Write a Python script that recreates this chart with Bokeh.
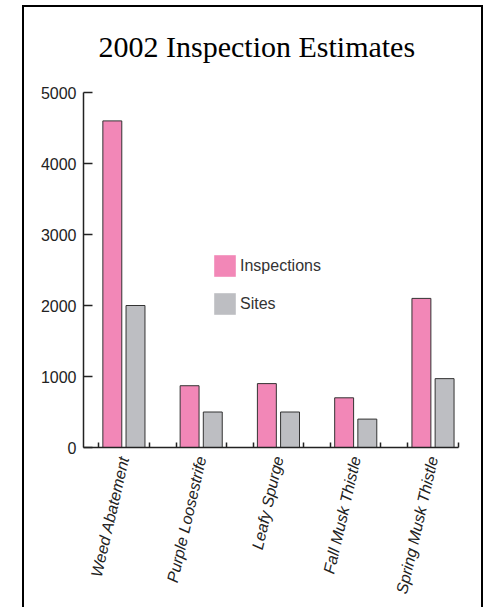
import numpy as np
from bokeh.plotting import figure
from bokeh.models import (ColumnDataSource, Range1d, FixedTicker, Legend, LegendItem,
                          Title, LinearAxis)
from bokeh.transform import dodge
from bokeh.embed import file_html
from bokeh.resources import INLINE

categories = ["Weed Abatement", "Purple Loosestrife", "Leafy Spurge",
              "Fall Musk Thistle", "Spring Musk Thistle"]
inspections = [4600, 870, 900, 700, 2100]
sites = [2000, 500, 500, 400, 970]
y_ticks = [0, 1000, 2000, 3000, 4000, 5000]
series_names = ["Inspections", "Sites"]
colors = ["#F287B7", "#BDBEC2"]

idx = np.arange(len(categories))
src = ColumnDataSource(dict(x=idx, inspections=inspections, sites=sites))

p = figure(width=461, height=602, output_backend="svg", toolbar_location=None,
           x_range=Range1d(-0.523, len(categories) - 1 + 0.33),
           y_range=Range1d(0, 5000),
           min_border_left=59, min_border_right=27, min_border_top=85,
           min_border_bottom=162, x_axis_type=None, y_axis_type=None)
p.styles = {"border-top": "2px solid black", "border-left": "2px solid black",
            "border-right": "2px solid black", "margin-left": "22px",
            "margin-top": "5px"}
p.outline_line_color = None
p.grid.visible = False
p.background_fill_color = "white"
p.border_fill_color = "white"

offset = 0.15
bw = 0.245
fills = []
for col, name, c, off in zip(["inspections", "sites"], series_names, colors, [-offset, offset]):
    r = p.vbar(x=dodge("x", off, range=p.x_range), top=col, width=bw, source=src,
               fill_color=c, line_color=None)
    p.vbar(x=dodge("x", off, range=p.x_range), top=col, width=bw, source=src,
           fill_color=None, line_color="#333333", line_width=1)
    fills.append((name, r))

# axes
edges = sorted([i - 0.325 for i in idx] + [i + 0.325 for i in idx])
xaxis = LinearAxis(ticker=FixedTicker(ticks=list(idx), minor_ticks=edges),
                   major_label_overrides={int(i): categories[i] for i in idx})
xaxis.major_tick_in = 0
xaxis.major_tick_out = 0
xaxis.minor_tick_in = 5
xaxis.minor_tick_out = 0
xaxis.minor_tick_line_color = "#222222"
xaxis.minor_tick_line_width = 1.5
xaxis.axis_line_color = "#222222"
xaxis.axis_line_width = 1.5
xaxis.major_label_orientation = np.radians(77)
xaxis.major_label_standoff = 9
xaxis.major_label_text_font = "Liberation Sans"
xaxis.major_label_text_font_size = "16px"
xaxis.major_label_text_font_style = "italic"
xaxis.major_label_text_color = "#222222"
p.add_layout(xaxis, "below")

yaxis = LinearAxis(ticker=FixedTicker(ticks=y_ticks, minor_ticks=[]))
yaxis.major_tick_in = 9
yaxis.major_tick_out = 0
yaxis.major_tick_line_color = "#222222"
yaxis.major_tick_line_width = 1.5
yaxis.axis_line_color = "#222222"
yaxis.axis_line_width = 1.5
yaxis.major_label_standoff = 7
yaxis.major_label_text_font = "Liberation Sans"
yaxis.major_label_text_font_size = "16px"
yaxis.major_label_text_color = "#222222"
p.add_layout(yaxis, "left")

# title with spacer
spacer = Title(text=" ", text_font_size="10px", standoff=17)
p.add_layout(spacer, "above")
main_title = Title(text="2002 Inspection Estimates", align="left", offset=15,
                   text_font="Liberation Serif", text_font_size="30px",
                   text_font_style="normal", text_color="black", standoff=0)
p.add_layout(main_title, "above")

legend = Legend(items=[LegendItem(label=n, renderers=[r]) for n, r in fills],
                location=(128, 130), glyph_width=27, glyph_height=27,
                label_standoff=2, spacing=11, padding=0, margin=0,
                border_line_color=None, background_fill_alpha=0,
                label_text_font="Liberation Sans", label_text_font_size="16px",
                label_text_color="#333333")
p.add_layout(legend, "center")

open("out.html", "w").write(file_html(p, INLINE))
